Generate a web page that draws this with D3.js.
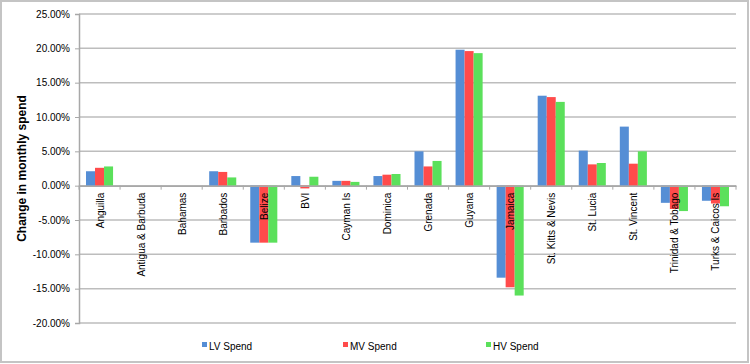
<!DOCTYPE html>
<html>
<head>
<meta charset="utf-8">
<script src="https://cdn.jsdelivr.net/npm/d3@7"></script>
<style>
body { margin: 0; background: #fff; }
svg { display: block; font-family: "Liberation Sans", Arial, sans-serif; }
</style>
</head>
<body>
<svg id="chart" width="750" height="364"></svg>
<script>
var countries = ["Anguilla", "Antigua & Barbuda", "Bahamas", "Barbados", "Belize", "BVI", "Cayman Is",
    "Dominica", "Grenada", "Guyana", "Jamaica", "St. Kitts & Nevis", "St. Lucia", "St. Vincent",
    "Trinidad & Tobago", "Turks & Caicos Is"];
var lvSpend = [2.1, 0, 0, 2.1, -8.3, 1.4, 0.7, 1.4, 5.0, 19.8, -13.4, 13.1, 5.1, 8.6, -2.5, -2.2];
var mvSpend = [2.6, 0, 0, 2.0, -8.3, -0.4, 0.7, 1.6, 2.8, 19.6, -14.8, 12.9, 3.1, 3.2, -3.4, -2.6];
var hvSpend = [2.8, 0, 0, 1.2, -8.3, 1.3, 0.55, 1.7, 3.6, 19.3, -16.0, 12.2, 3.3, 5.0, -3.7, -3.0];
var seriesNames = ["LV Spend", "MV Spend", "HV Spend"];
var yTicks = [25, 20, 15, 10, 5, 0, -5, -10, -15, -20];
var colors = ["#558ED5", "#FF4B4B", "#5BE05B"];

var svg = d3.select("#chart");
var plotLeft = 79, plotRight = 736, plotTop = 14, plotBottom = 323;

// outer frame
svg.append("rect")
    .attr("x", 1).attr("y", 1).attr("width", 747).attr("height", 361)
    .attr("fill", "none").attr("stroke", "#c4c4c4").attr("stroke-width", 2);

var x = d3.scaleBand().domain(countries).range([plotLeft, plotRight]);
var y = d3.scaleLinear().domain([-20, 25]).range([plotBottom, plotTop]);
var xInner = d3.scaleBand().domain([0, 1, 2]).range([7, x.bandwidth() - 7]);

// gridlines
svg.append("g").selectAll("line").data(yTicks).enter().append("line")
    .attr("x1", plotLeft).attr("x2", plotRight)
    .attr("y1", d => y(d)).attr("y2", d => y(d))
    .attr("stroke", "#bdbdbd").attr("stroke-width", 1.5);

// y axis
var yAxis = svg.append("g")
    .attr("transform", `translate(${plotLeft},0)`)
    .call(d3.axisLeft(y).tickValues(yTicks).tickSize(4).tickPadding(5).tickFormat(d => d.toFixed(2) + "%"));
yAxis.select(".domain").attr("stroke", "#a8a8a8").attr("stroke-width", 1.5);
yAxis.selectAll(".tick line").attr("stroke", "#a8a8a8");
yAxis.selectAll("text").attr("font-size", 10).attr("fill", "#000")
    .attr("font-family", "'Liberation Sans', Arial, sans-serif");

svg.append("text")
    .attr("transform", `translate(26,${(plotTop + plotBottom) / 2}) rotate(-90)`)
    .attr("text-anchor", "middle")
    .attr("font-size", 12).attr("font-weight", "bold")
    .text("Change in monthly spend");

// bars
var allSeries = [lvSpend, mvSpend, hvSpend];
allSeries.forEach(function(values, s) {
    svg.append("g").selectAll("rect").data(values).enter().append("rect")
        .attr("x", (d, i) => x(countries[i]) + xInner(s))
        .attr("width", xInner.bandwidth())
        .attr("y", d => y(Math.max(0, d)))
        .attr("height", d => Math.abs(y(d) - y(0)))
        .attr("fill", colors[s]);
});

// zero axis and category ticks
var xAxis = svg.append("g")
    .attr("transform", `translate(0,${y(0)})`)
    .call(d3.axisBottom(x).tickSize(0).tickFormat(""));
xAxis.select(".domain").attr("stroke", "#a8a8a8").attr("stroke-width", 1.5);
svg.append("g").selectAll("line").data(countries.concat(["end"])).enter().append("line")
    .attr("x1", (d, i) => plotLeft + i * x.step()).attr("x2", (d, i) => plotLeft + i * x.step())
    .attr("y1", y(0)).attr("y2", y(0) + 4)
    .attr("stroke", "#a8a8a8");

// category labels
svg.append("g").selectAll("text").data(countries).enter().append("text")
    .attr("transform", d => `translate(${x(d) + x.bandwidth() / 2 + 4},${y(0) + 7}) rotate(-90)`)
    .attr("text-anchor", "end")
    .attr("font-size", 10)
    .text(d => d);

// legend
var legendX = [202, 343, 486];
var legend = svg.append("g").selectAll("g").data(seriesNames).enter().append("g")
    .attr("transform", (d, i) => `translate(${legendX[i]},347)`);
legend.append("rect").attr("x", 0).attr("y", -5).attr("width", 5).attr("height", 5)
    .attr("fill", (d, i) => colors[i]);
legend.append("text").attr("x", 7).attr("y", 0).attr("dy", "0.25em")
    .attr("font-size", 10).text(d => d);
</script>
</body>
</html>
